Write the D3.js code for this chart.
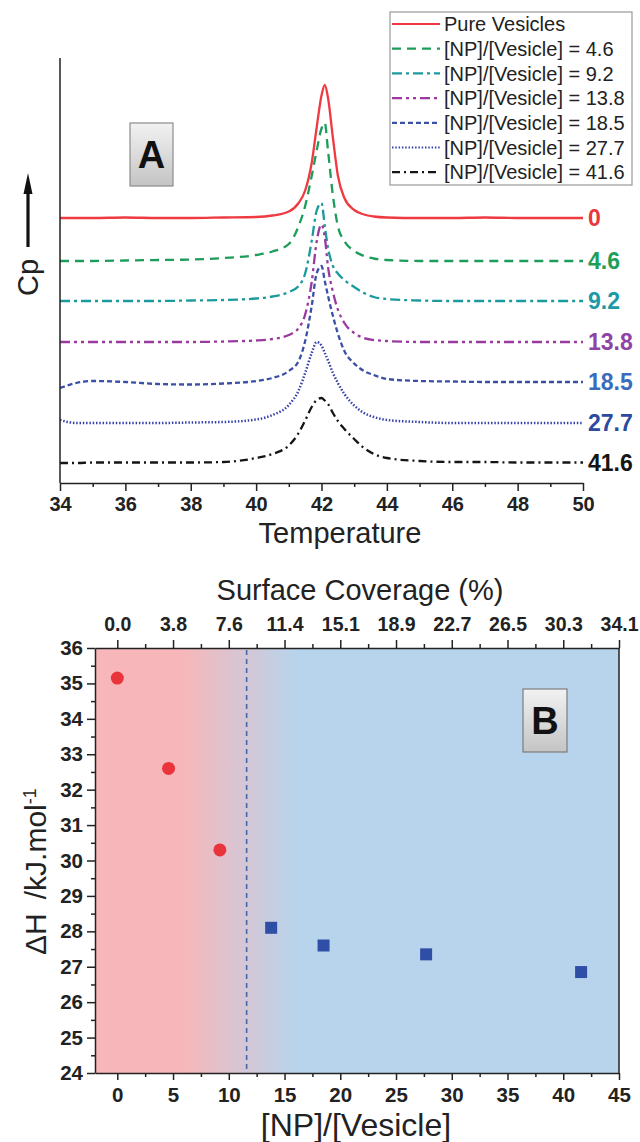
<!DOCTYPE html>
<html>
<head>
<meta charset="utf-8">
<script src="https://cdn.jsdelivr.net/npm/d3@7/dist/d3.min.js"></script>
<style>
    body { margin: 0; background: #fff; }
    svg { display: block; font-family: "Liberation Sans", Arial, sans-serif; }
</style>
</head>
<body>
<svg id="chart" width="640" height="1142"></svg>
<script>
// ---------- panel A : DSC thermograms (Cp, arbitrary units) ----------
const temps = [34, 34.5, 35, 36, 37, 38, 39, 40, 40.5, 41, 41.3, 41.5, 41.7, 41.85, 42, 42.1, 42.2, 42.35, 42.5, 42.7, 43, 43.3, 43.6, 44, 45, 46, 47, 48, 49, 50]

const cpPure = [0, 0, 0, 0.1, 0, 0, 0.1, 0.2, 0.5, 1.3, 3, 5.5, 11, 18, 24.5, 26.6, 24, 16, 8.5, 4, 1.6, 0.7, 0.3, 0.1, 0, 0, 0.1, 0, 0, 0]
const cp46 = [0, 0, 0, 0.1, 0.2, 0.3, 0.6, 1.2, 1.9, 3.4, 7, 11, 17, 22, 26.5, 27.6, 22, 13, 7, 4, 2, 1, 0.5, 0.2, 0, 0, 0, 0, 0, 0]
const cp92 = [0, 0, 0, 0, 0, 0.1, 0.2, 0.5, 0.9, 1.8, 3, 5.5, 12, 18, 19.6, 15, 10.6, 7, 5.5, 4.2, 2.8, 1.6, 0.8, 0.4, 0.1, 0, 0, 0, 0, 0]
const cp138 = [0, 0, 0, 0, 0, 0, 0.1, 0.3, 0.6, 1.4, 2.8, 5.5, 12, 20, 23.5, 21, 15, 10, 6.5, 3.8, 1.8, 0.8, 0.4, 0.2, 0, 0, 0, 0, 0, 0]
const cp185 = [-0.4, 0.6, 1, 0.8, 0.4, 0.3, 0.5, 1, 1.6, 3, 5, 9, 16, 22.5, 24, 21, 18, 14, 10.5, 7, 4.5, 3, 2.2, 1.4, 1, 0.9, 0.8, 0.8, 0.8, 0.8]
const cp277 = [0.6, 0, 0, 0, 0, 0.1, 0.2, 0.7, 1.6, 3.6, 6.5, 10, 14, 16.2, 15.5, 14, 12.5, 10, 8, 5.8, 3.5, 2, 1.2, 0.6, 0.2, 0, 0, 0, 0, 0]
const cp416 = [0, 0, 0.1, 0.1, 0.1, 0.1, 0.2, 1, 1.8, 3.5, 6, 8.5, 11.2, 12.6, 13, 12.5, 11.8, 10, 8.4, 6.8, 4.8, 3, 1.8, 1, 0.4, 0.2, 0.2, 0.1, 0.1, 0.1]

const curves = [cpPure, cp46, cp92, cp138, cp185, cp277, cp416]
const offsets = [53, 44.4, 36.4, 28.2, 19.4, 12, 4]   // vertical stacking of the traces
const ratioLabels = ['0', '4.6', '9.2', '13.8', '18.5', '27.7', '41.6']
const legendNames = ['Pure Vesicles', '[NP]/[Vesicle] = 4.6', '[NP]/[Vesicle] = 9.2', '[NP]/[Vesicle] = 13.8',
    '[NP]/[Vesicle] = 18.5', '[NP]/[Vesicle] = 27.7', '[NP]/[Vesicle] = 41.6']
const tempTicks = [34, 36, 38, 40, 42, 44, 46, 48, 50]

// ---------- panel B : enthalpy ----------
const npRatio = [0, 4.6, 9.2, 13.8, 18.5, 27.7, 41.6]
const deltaH = [35.15, 32.6, 30.3, 28.1, 27.6, 27.35, 26.85]
const coverageLabels = ['0.0', '3.8', '7.6', '11.4', '15.1', '18.9', '22.7', '26.5', '30.3', '34.1']
const threshold = 11.6

// styles
const lineColors = ['#ee3a40', '#1c9d5a', '#1b9a9e', '#9a3a9e', '#3b4fa6', '#3442aa', '#151515']
const labelColors = ['#e8363c', '#1f9e5a', '#1d9aa4', '#8d44a6', '#3a6cbe', '#2b4aa0', '#151515']
const dashes = ['none', '9,6', '10,4,3,4', '10,4,3,4,3,4', '5,3', '1.5,1.8', '8,4,2,4']

const svg = d3.select('#chart')

// gradient defs
const defs = svg.append('defs')
const boxGrad = defs.append('linearGradient').attr('id', 'boxGrad').attr('x1', 0).attr('y1', 0).attr('x2', 0).attr('y2', 1)
boxGrad.append('stop').attr('offset', '0%').attr('stop-color', '#f2f2f2')
boxGrad.append('stop').attr('offset', '100%').attr('stop-color', '#c4c4c4')

// ======================= PANEL A =======================
const xA = d3.scaleLinear().domain([34, 50]).range([60, 583])
const yA = d3.scaleLinear().domain([0, 85]).range([483, 58])

const gA = svg.append('g')

const line = d3.line()
    .x((d) => xA(d[0]))
    .y((d) => yA(d[1]))
    .curve(d3.curveMonotoneX)

curves.forEach((c, i) =>
{
    gA.append('path')
        .datum(temps.map((t, j) => [t, c[j] + offsets[i]]))
        .attr('d', line)
        .attr('fill', 'none')
        .attr('stroke', lineColors[i])
        .attr('stroke-width', i === 5 ? 2.5 : 2.3)
        .attr('stroke-dasharray', dashes[i])

    gA.append('text')
        .attr('x', 588)
        .attr('y', yA(c[c.length - 1] + offsets[i]))
        .attr('dy', '0.36em')
        .attr('fill', labelColors[i])
        .style('font-size', '23px')
        .style('font-weight', 'bold')
        .text(ratioLabels[i])
})

// axes A
gA.append('line')
    .attr('x1', xA(34)).attr('x2', xA(34))
    .attr('y1', 58).attr('y2', yA(0))
    .attr('stroke', '#222').attr('stroke-width', 1.5)

const axisA = gA.append('g')
    .attr('transform', `translate(0,${yA(0)})`)
    .call(d3.axisBottom(xA).tickValues(tempTicks).tickSize(8).tickSizeOuter(0).tickPadding(6))
gA.append('g')
    .attr('transform', `translate(0,${yA(0)})`)
    .call(d3.axisBottom(xA).tickValues(d3.range(35, 50, 2)).tickSize(4).tickFormat(''))
    .call((g) => g.select('.domain').remove())

gA.selectAll('.domain, .tick line').attr('stroke', '#222').attr('stroke-width', 1.5)
axisA.selectAll('text')
    .style('font-size', '20px')
    .style('font-weight', 'bold')
    .attr('fill', '#222')

gA.append('text')
    .attr('x', 340).attr('y', 543)
    .attr('text-anchor', 'middle')
    .style('font-size', '29px')
    .attr('fill', '#222')
    .text('Temperature')

// Cp label with arrow
gA.append('text')
    .attr('transform', 'translate(38,296) rotate(-90)')
    .style('font-size', '29px')
    .attr('fill', '#222')
    .text('Cp')
gA.append('line')
    .attr('x1', 28).attr('x2', 28).attr('y1', 247).attr('y2', 190)
    .attr('stroke', '#111').attr('stroke-width', 3.2)
gA.append('path')
    .attr('d', 'M28,173 L23.5,194 L32.5,194 Z')
    .attr('fill', '#111')

// panel letter A
gA.append('rect')
    .attr('x', 130).attr('y', 123).attr('width', 43).attr('height', 63)
    .attr('fill', 'url(#boxGrad)').attr('stroke', '#8c8c8c').attr('stroke-width', 1.2)
gA.append('text')
    .attr('x', 151.5).attr('y', 168)
    .attr('text-anchor', 'middle')
    .style('font-size', '38px').style('font-weight', 'bold')
    .attr('fill', '#111')
    .text('A')

// legend
const legend = gA.append('g')
legend.append('rect')
    .attr('x', 390).attr('y', 12).attr('width', 242).attr('height', 173)
    .attr('fill', '#fff').attr('stroke', '#999').attr('stroke-width', 1.2)
legendNames.forEach((name, i) =>
{
    const ly = 24 + i * 24.7
    legend.append('line')
        .attr('x1', 392).attr('x2', 440).attr('y1', ly).attr('y2', ly)
        .attr('stroke', lineColors[i]).attr('stroke-width', 2.2)
        .attr('stroke-dasharray', dashes[i])
    legend.append('text')
        .attr('x', 444).attr('y', ly).attr('dy', '0.36em')
        .style('font-size', '20px')
        .attr('fill', '#222')
        .text(name)
})

// ======================= PANEL B =======================
const xB = d3.scaleLinear().domain([-2, 45]).range([95, 619])
const yB = d3.scaleLinear().domain([24, 36]).range([1073, 648])

const gB = svg.append('g')

const bgGrad = defs.append('linearGradient').attr('id', 'bgGrad')
    .attr('gradientUnits', 'userSpaceOnUse')
    .attr('x1', xB(6)).attr('x2', xB(16)).attr('y1', 0).attr('y2', 0)
bgGrad.append('stop').attr('offset', '0%').attr('stop-color', '#f7b7ba')
bgGrad.append('stop').attr('offset', '100%').attr('stop-color', '#b8d4ec')

gB.append('rect')
    .attr('x', xB(-2)).attr('y', yB(36))
    .attr('width', xB(45) - xB(-2)).attr('height', yB(24) - yB(36))
    .attr('fill', 'url(#bgGrad)')

gB.append('line')
    .attr('x1', xB(threshold)).attr('x2', xB(threshold))
    .attr('y1', yB(36) + 2).attr('y2', yB(24) - 2)
    .attr('stroke', '#4469a6').attr('stroke-width', 1.6)
    .attr('stroke-dasharray', '5,4')

// points
const pts = npRatio.map((x, i) => ({ x: x, y: deltaH[i], below: x < threshold }))
gB.selectAll('circle.pt')
    .data(pts.filter((d) => d.below))
    .join('circle')
    .attr('class', 'pt')
    .attr('cx', (d) => xB(d.x))
    .attr('cy', (d) => yB(d.y))
    .attr('r', 6.5)
    .attr('fill', '#e8343a')
gB.selectAll('rect.pt')
    .data(pts.filter((d) => !d.below))
    .join('rect')
    .attr('class', 'pt')
    .attr('x', (d) => xB(d.x) - 6)
    .attr('y', (d) => yB(d.y) - 6)
    .attr('width', 12).attr('height', 12)
    .attr('fill', '#2f4ea6')

// axes B
const styleAxis = (g, size) =>
{
    g.selectAll('.domain, .tick line').attr('stroke', '#222').attr('stroke-width', 1.5)
    g.selectAll('text')
        .style('font-size', size)
        .style('font-weight', 'bold')
        .attr('fill', '#222')
}

const majorX = d3.range(0, 46, 5)
const minorX = d3.range(2.5, 45, 5)

gB.append('g')
    .attr('transform', `translate(0,${yB(24)})`)
    .call(d3.axisBottom(xB).tickValues(majorX).tickSize(7).tickSizeOuter(0).tickPadding(7))
    .call((g) => styleAxis(g, '20.5px'))
gB.append('g')
    .attr('transform', `translate(0,${yB(24)})`)
    .call(d3.axisBottom(xB).tickValues(minorX).tickSize(4).tickFormat(''))
    .call((g) => g.select('.domain').remove())
    .call((g) => styleAxis(g, '1px'))

gB.append('g')
    .attr('transform', `translate(0,${yB(36)})`)
    .call(d3.axisTop(xB).tickValues(majorX).tickSize(8).tickSizeOuter(0).tickPadding(9)
        .tickFormat((d, i) => coverageLabels[i]))
    .call((g) => styleAxis(g, '19.5px'))
gB.append('g')
    .attr('transform', `translate(0,${yB(36)})`)
    .call(d3.axisTop(xB).tickValues(minorX).tickSize(4).tickFormat(''))
    .call((g) => g.select('.domain').remove())
    .call((g) => styleAxis(g, '1px'))

gB.append('g')
    .attr('transform', `translate(${xB(-2)},0)`)
    .call(d3.axisLeft(yB).tickValues(d3.range(24, 37, 1)).tickSize(8).tickSizeOuter(0).tickPadding(4))
    .call((g) => styleAxis(g, '20.5px'))
gB.append('g')
    .attr('transform', `translate(${xB(-2)},0)`)
    .call(d3.axisLeft(yB).tickValues(d3.range(24.5, 36, 1)).tickSize(4).tickFormat(''))
    .call((g) => g.select('.domain').remove())
    .call((g) => styleAxis(g, '1px'))

gB.append('line')
    .attr('x1', xB(45)).attr('x2', xB(45))
    .attr('y1', yB(36)).attr('y2', yB(24))
    .attr('stroke', '#222').attr('stroke-width', 1.5)

// titles B
gB.append('text')
    .attr('x', 360).attr('y', 600)
    .attr('text-anchor', 'middle')
    .style('font-size', '29px')
    .attr('fill', '#222')
    .text('Surface Coverage (%)')

gB.append('text')
    .attr('x', 356).attr('y', 1136)
    .attr('text-anchor', 'middle')
    .style('font-size', '32px')
    .attr('fill', '#222')
    .text('[NP]/[Vesicle]')

const yTitle = gB.append('text')
    .attr('transform', 'translate(46,955) rotate(-90)')
    .style('font-size', '30px')
    .attr('fill', '#222')
yTitle.append('tspan').text('\u0394H')
yTitle.append('tspan').attr('dx', '14').text('/kJ.mol')
yTitle.append('tspan').attr('dy', '-0.55em').style('font-size', '18px').text('-1')

// panel letter B
gB.append('rect')
    .attr('x', 523).attr('y', 689).attr('width', 44).attr('height', 63)
    .attr('fill', 'url(#boxGrad)').attr('stroke', '#7c7c7c').attr('stroke-width', 1.2)
gB.append('text')
    .attr('x', 545).attr('y', 734)
    .attr('text-anchor', 'middle')
    .style('font-size', '38px').style('font-weight', 'bold')
    .attr('fill', '#111')
    .text('B')
</script>
</body>
</html>
